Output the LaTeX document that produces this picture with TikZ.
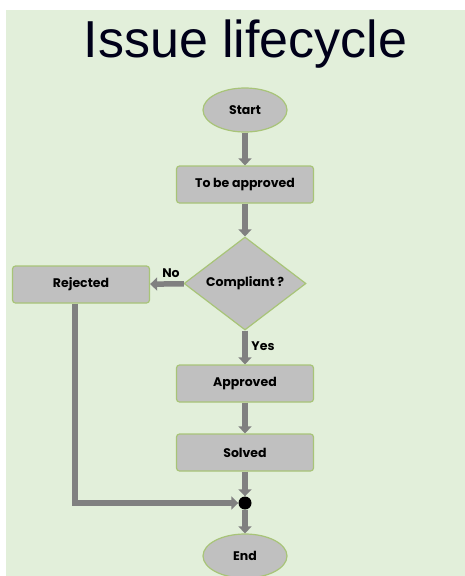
\documentclass[tikz,border=0pt]{standalone}
\usepackage{fontspec}
\setmainfont{Liberation Sans}
\newfontfamily\nodefont{Poppins}
\usetikzlibrary{shapes.geometric,arrows.meta}
\definecolor{bggreen}{RGB}{226,239,218}
\definecolor{nodegray}{RGB}{192,192,192}
\definecolor{edgegreen}{RGB}{168,196,120}
\definecolor{arrowgray}{RGB}{128,128,128}
\tikzset{
  x=1pt, y=-1pt,
  basebox/.style={draw=edgegreen, line width=1.2pt, fill=nodegray, font=\nodefont\bfseries\fontsize{12.5}{14}\selectfont, inner sep=0pt},
  procbox/.style={basebox, rectangle, rounded corners=3pt, minimum width=137pt, minimum height=37pt},
  termbox/.style={basebox, ellipse, minimum width=84pt, minimum height=44pt},
  decbox/.style={basebox, diamond, minimum width=122pt, minimum height=93pt},
  flow/.style={draw=arrowgray, line width=5.5pt, -{Triangle[width=13pt,length=7pt]}},
  lbl/.style={font=\nodefont\bfseries\fontsize{12.5}{14}\selectfont, inner sep=0pt}
}
\begin{document}
\begin{tikzpicture}
\useasboundingbox (0,0) rectangle (465,576);
\fill[white] (0,0) rectangle (465,576);
\fill[bggreen] (6,10) rectangle (465,576);
\node[anchor=base, font=\fontsize{52}{56}\selectfont, text=black!90!blue, inner sep=0pt] (title) at (245.5,57) {Issue lifecycle};

\node[termbox] (start) at (245,110) {Start};
\node[procbox] (tba) at (245,184.5) {To be approved};
\node[decbox] (comp) at (245,283.5) {Compliant ?};
\node[procbox] (rej) at (81,284.5) {Rejected};
\node[procbox] (appr) at (245,383.5) {Approved};
\node[procbox] (solv) at (245,452.5) {Solved};
\node[circle, fill=black, minimum size=13pt, inner sep=0pt] (dot) at (245,503) {};
\node[termbox] (end) at (245,556) {End};

\draw[flow] (start) -- (tba);
\draw[flow] (tba) -- (comp);
\draw[flow] (comp) -- (rej);
\draw[flow] (comp) -- (appr);
\draw[flow] (appr) -- (solv);
\draw[flow] (solv) -- (dot);
\draw[flow] (dot) -- (end);
\coordinate (rbend) at (75,503);
\draw[flow] ([xshift=-6pt]rej.south) -- (rbend) -- (dot);

\node[lbl] (no) at (171,273) {No};
\node[lbl] (yes) at (263,346) {Yes};
\end{tikzpicture}
\end{document}
